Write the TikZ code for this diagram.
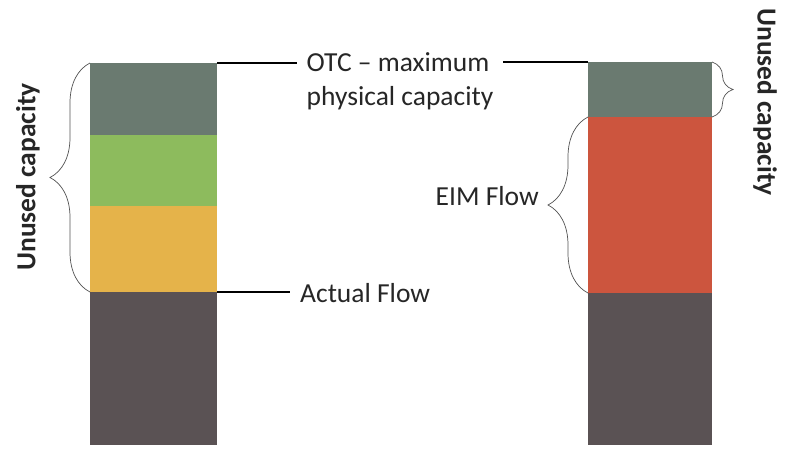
\documentclass[tikz,border=0pt]{standalone}
\usepackage{fontspec}
\setmainfont{Carlito}
\usetikzlibrary{decorations.pathreplacing}
\definecolor{otcgrey}{HTML}{6A7A70}
\definecolor{sparegreen}{HTML}{8DBB5D}
\definecolor{flowyellow}{HTML}{E5B34A}
\definecolor{basedark}{HTML}{5A5254}
\definecolor{eimred}{HTML}{CC553E}
\definecolor{textdark}{HTML}{262626}
\tikzstyle{seg} = [rectangle, anchor=north west, inner sep=0pt, outer sep=0pt]
\tikzstyle{lbl} = [text=textdark, inner sep=0pt, font=\fontsize{27.5}{34}\selectfont]
\tikzstyle{tick} = [draw, line width=1.8pt, black]
\tikzstyle{brace} = [draw, decorate, decoration={brace, amplitude=40pt, aspect=0.5}, line width=0.7pt, textdark!80]

\begin{document}
\begin{tikzpicture}[x=1pt, y=-1pt]
    \useasboundingbox (0,0) rectangle (785,455);
    % Place nodes

    % left bar
    \node [seg, fill=otcgrey, minimum width=127pt, minimum height=72pt] (lefttop) at (90,63) {};
    \node [seg, fill=sparegreen, minimum width=127pt, minimum height=71pt] (leftgreen) at (90,135) {};
    \node [seg, fill=flowyellow, minimum width=127pt, minimum height=86pt] (leftyellow) at (90,206) {};
    \node [seg, fill=basedark, minimum width=127pt, minimum height=153pt] (leftdark) at (90,292) {};

    % right bar
    \node [seg, fill=otcgrey, minimum width=124pt, minimum height=55pt] (righttop) at (588,62) {};
    \node [seg, fill=eimred, minimum width=124pt, minimum height=176pt] (rightred) at (588,117) {};
    \node [seg, fill=basedark, minimum width=124pt, minimum height=152pt] (rightdark) at (588,293) {};

    % labels
    \node [lbl, align=left, inner xsep=10pt] (otc) at (400,81) {OTC -- maximum\\physical capacity};
    \node [lbl, anchor=west, inner xsep=10pt] (actual) at (290,293) {Actual Flow};
    \node [lbl, anchor=east] (eim) at (539,196) {EIM Flow};
    \node [lbl, font=\fontsize{27.5}{34}\selectfont\bfseries, rotate=90] (unusedleft) at (28,177) {Unused capacity};
    \node [lbl, font=\fontsize{27.5}{34}\selectfont\bfseries, rotate=-90] (unusedright) at (765,102) {Unused capacity};

    % Draw edges
    \path [tick] (lefttop.north east) -- (lefttop.north east -| otc.west);
    \path [tick] (otc.east |- righttop.north west) -- (righttop.north west);
    \path [tick] (leftyellow.south east) -- (leftyellow.south east -| actual.west);

    % braces
    \path [brace] (leftdark.north west) -- (lefttop.north west);
    \path [brace] (rightdark.north west) -- (rightred.north west);
    \path [brace, decoration={amplitude=21pt}] (righttop.north east) -- (righttop.south east);
\end{tikzpicture}
\end{document}
